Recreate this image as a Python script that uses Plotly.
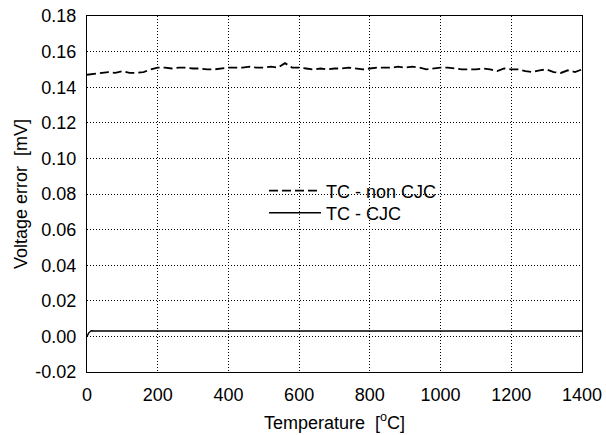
import plotly.graph_objects as go

temps_noncjc = [0, 20, 40, 60, 80, 100, 120, 140, 160, 180, 200, 220, 240, 260, 280, 300, 320, 340, 360, 380,
                400, 420, 440, 460, 480, 500, 520, 540, 560, 580, 600, 620, 640, 660, 680, 700, 720, 740, 760, 780,
                800, 820, 840, 860, 880, 900, 920, 940, 960, 980, 1000, 1020, 1040, 1060, 1080, 1100, 1120, 1140,
                1160, 1180, 1200, 1220, 1240, 1260, 1280, 1300, 1320, 1340, 1360, 1380, 1400]
err_noncjc = [0.147, 0.1475, 0.148, 0.1485, 0.148, 0.149, 0.148, 0.148, 0.1485, 0.150, 0.151, 0.151, 0.1505,
              0.151, 0.151, 0.1505, 0.1505, 0.150, 0.150, 0.1505, 0.151, 0.151, 0.151, 0.1515, 0.151, 0.151,
              0.1515, 0.151, 0.1535, 0.151, 0.151, 0.1505, 0.150, 0.1505, 0.150, 0.1505, 0.1505, 0.151, 0.1505,
              0.150, 0.1505, 0.151, 0.151, 0.151, 0.1515, 0.151, 0.1515, 0.151, 0.150, 0.1505, 0.151, 0.151,
              0.1505, 0.150, 0.150, 0.150, 0.1505, 0.150, 0.149, 0.1505, 0.150, 0.150, 0.149, 0.1485, 0.1495,
              0.150, 0.1485, 0.148, 0.1495, 0.1485, 0.150]

temps_cjc = [0, 5, 12, 20, 1400]
err_cjc = [0.0, 0.002, 0.0032, 0.003, 0.003]

x_ticks = [0, 200, 400, 600, 800, 1000, 1200, 1400]
y_ticks = [-0.02, 0.00, 0.02, 0.04, 0.06, 0.08, 0.10, 0.12, 0.14, 0.16, 0.18]
y_ticktext = ["-0.02", "0.00", "0.02", "0.04", "0.06", "0.08", "0.10", "0.12", "0.14", "0.16", "0.18"]

FONT = "Liberation Sans, Arial, sans-serif"
FS = 18

fig = go.Figure()
fig.add_trace(go.Scatter(x=temps_noncjc, y=err_noncjc, mode="lines", name="TC - non CJC",
                         line=dict(color="black", width=1.8, dash="9px,4px"), legend="legend"))
fig.add_trace(go.Scatter(x=temps_cjc, y=err_cjc, mode="lines", name="TC - CJC",
                         line=dict(color="black", width=1.4), legend="legend2"))

axis_common = dict(showline=True, linecolor="black", linewidth=1.3, mirror=True,
                   showgrid=True, gridcolor="black", griddash="1px,2px", gridwidth=1,
                   zeroline=False, ticks="outside", ticklen=6, tickcolor="rgba(0,0,0,0)",
                   automargin=False,
                   tickfont=dict(family=FONT, size=FS, color="black"))

leg_common = dict(xanchor="left", yanchor="middle", bgcolor="rgba(0,0,0,0)",
                  font=dict(family=FONT, size=FS, color="black"), itemwidth=52)

PW, PH = 495, 356
fig.update_layout(
    width=606, height=435,
    margin=dict(l=87, r=24, t=16, b=63),
    paper_bgcolor="white", plot_bgcolor="white",
    font=dict(family=FONT, size=FS, color="black"),
    showlegend=True,
    legend=dict(x=(264 - 87) / PW, y=1 - (191 - 16) / PH, **leg_common),
    legend2=dict(x=(264 - 87) / PW, y=1 - (213 - 16) / PH, **leg_common),
    xaxis=dict(range=[0, 1400], tickvals=x_ticks,
               title=dict(text="Temperature  [<sup>o</sup>C]", font=dict(family=FONT, size=FS), standoff=12),
               **axis_common),
    yaxis=dict(range=[-0.02, 0.18], tickvals=y_ticks, ticktext=y_ticktext,
               title=dict(text="Voltage error  [mV]", font=dict(family=FONT, size=FS), standoff=2),
               **axis_common),
)

fig.write_html("out.html", config={"displayModeBar": False},
               post_script="document.body.style.margin='0';")
